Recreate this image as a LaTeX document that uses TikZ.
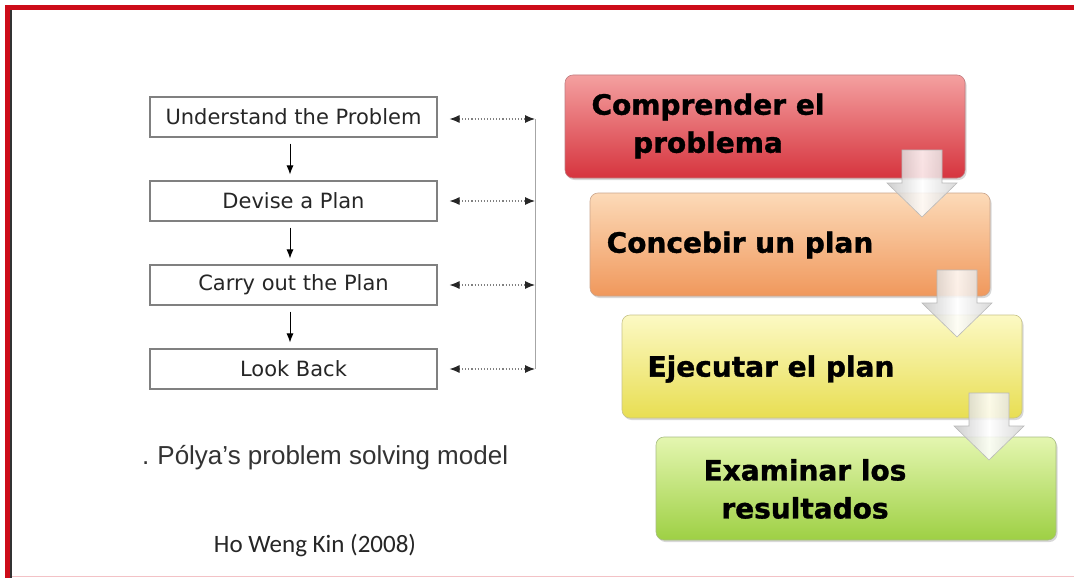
\documentclass[tikz,border=0pt]{standalone}
\usepackage{fontspec}
\setmainfont{DejaVu Sans}
\newfontfamily\arialf{Liberation Sans}
\newfontfamily\calibf{Carlito}
\newfontfamily\boldf{DejaVu Sans}[UprightFont=*-Bold, FakeBold=1.2]
\usetikzlibrary{arrows.meta,shadows}
\definecolor{frame}{RGB}{205,12,25}
\definecolor{redT}{RGB}{244,160,160}
\definecolor{redB}{RGB}{214,52,62}
\definecolor{orT}{RGB}{252,218,184}
\definecolor{orB}{RGB}{240,152,92}
\definecolor{yeT}{RGB}{252,249,196}
\definecolor{yeB}{RGB}{232,222,82}
\definecolor{grT}{RGB}{228,246,176}
\definecolor{grB}{RGB}{158,208,68}
\tikzset{
  stepbox/.style={draw=black!50, line width=1.1pt, minimum width=287pt, minimum height=40pt, inner sep=0pt, text=black!85, font=\fontsize{21}{24}\selectfont},
  downarr/.style={-{Latex[length=9pt,width=7pt]}, line width=0.9pt, shorten >=6pt, shorten <=6pt},
  dotarr/.style={{Latex[length=10pt,width=8pt,black!85]}-{Latex[length=10pt,width=8pt,black!85]}, gray, line width=1.1pt, dotted},
  phase/.style={rounded corners=8pt, minimum width=400pt, minimum height=103pt, draw=#1!70!black!60, line width=0.6pt, drop shadow={shadow xshift=1.5pt, shadow yshift=-2pt, opacity=0.3}},
  phasetext/.style={font=\boldf\fontsize{28}{38}\selectfont, align=center, inner sep=0pt},
  blockarr/.style={draw=gray!55, line width=0.6pt, left color=gray!45, right color=gray!35, middle color=white, fill opacity=0.85}
}
\newcommand{\blockarrow}[2]{%
  \path[blockarr] (#1-20,#2-67) -- (#1+20,#2-67) -- (#1+20,#2-34) -- (#1+35,#2-34) -- (#1,#2) -- (#1-35,#2-34) -- (#1-20,#2-34) -- cycle;}
\begin{document}
\begin{tikzpicture}[x=1pt,y=-1pt]
\useasboundingbox (0,0) rectangle (1074,578);
\fill[white] (0,0) rectangle (1074,578);
% frame
\draw[frame, line width=5pt] (7.5,578) -- (7.5,7.5) -- (1074,7.5);
\draw[black!80, line width=1.5pt] (11,10) -- (11,578);
\draw[frame!25, line width=1pt] (12,576.5) -- (1074,576.5);

% left model
\node[stepbox] (u1) at (293.5,117) {Understand the Problem};
\node[stepbox] (u2) at (293.5,201) {Devise a Plan};
\node[stepbox] (u3) at (293.5,285) {Carry out the Plan};
\node[stepbox] (u4) at (293.5,369) {Look Back};
\draw[downarr] ([xshift=-3.5pt]u1.south) -- ([xshift=-3.5pt]u2.north);
\draw[downarr] ([xshift=-3.5pt]u2.south) -- ([xshift=-3.5pt]u3.north);
\draw[downarr] ([xshift=-3.5pt]u3.south) -- ([xshift=-3.5pt]u4.north);
\coordinate (c1) at (535,119);
\coordinate (c2) at (535,201);
\coordinate (c3) at (535,285);
\coordinate (c4) at (535,369);
\draw[gray!70, line width=1pt] (c1) -- (c4);
\draw[dotarr] ([xshift=12pt]u1.east |- c1) -- (c1);
\draw[dotarr] ([xshift=12pt]u2.east |- c2) -- (c2);
\draw[dotarr] ([xshift=12pt]u3.east |- c3) -- (c3);
\draw[dotarr] ([xshift=12pt]u4.east |- c4) -- (c4);
\node[font=\arialf\fontsize{26}{30}\selectfont, text=black!80, anchor=west, inner sep=0pt] (cap) at (142,458) {.\kern8pt Pólya’s problem solving model};
\node[font=\calibf\fontsize{25}{30}\selectfont, text=black!85, inner sep=0pt] (ref) at (315,546) {Ho Weng Kin (2008)};

% right model
\node[phase=redB, top color=redT, bottom color=redB] (s1) at (765,126.5) {};
\node[phase=orB, top color=orT, bottom color=orB] (s2) at (790,244.5) {};
\node[phase=yeB, top color=yeT, bottom color=yeB] (s3) at (822,366.5) {};
\node[phase=grB, top color=grT, bottom color=grB] (s4) at (856,488.5) {};
\blockarrow{922}{217}
\blockarrow{957}{337}
\blockarrow{989}{460}
\node[phasetext] (t1) at (708,126) {Comprender el\\problema};
\node[phasetext] (t2) at (740,245) {Concebir un plan};
\node[phasetext] (t3) at (771,369) {Ejecutar el plan};
\node[phasetext] (t4) at (805,489) {Examinar los\\resultados};
\end{tikzpicture}
\end{document}
